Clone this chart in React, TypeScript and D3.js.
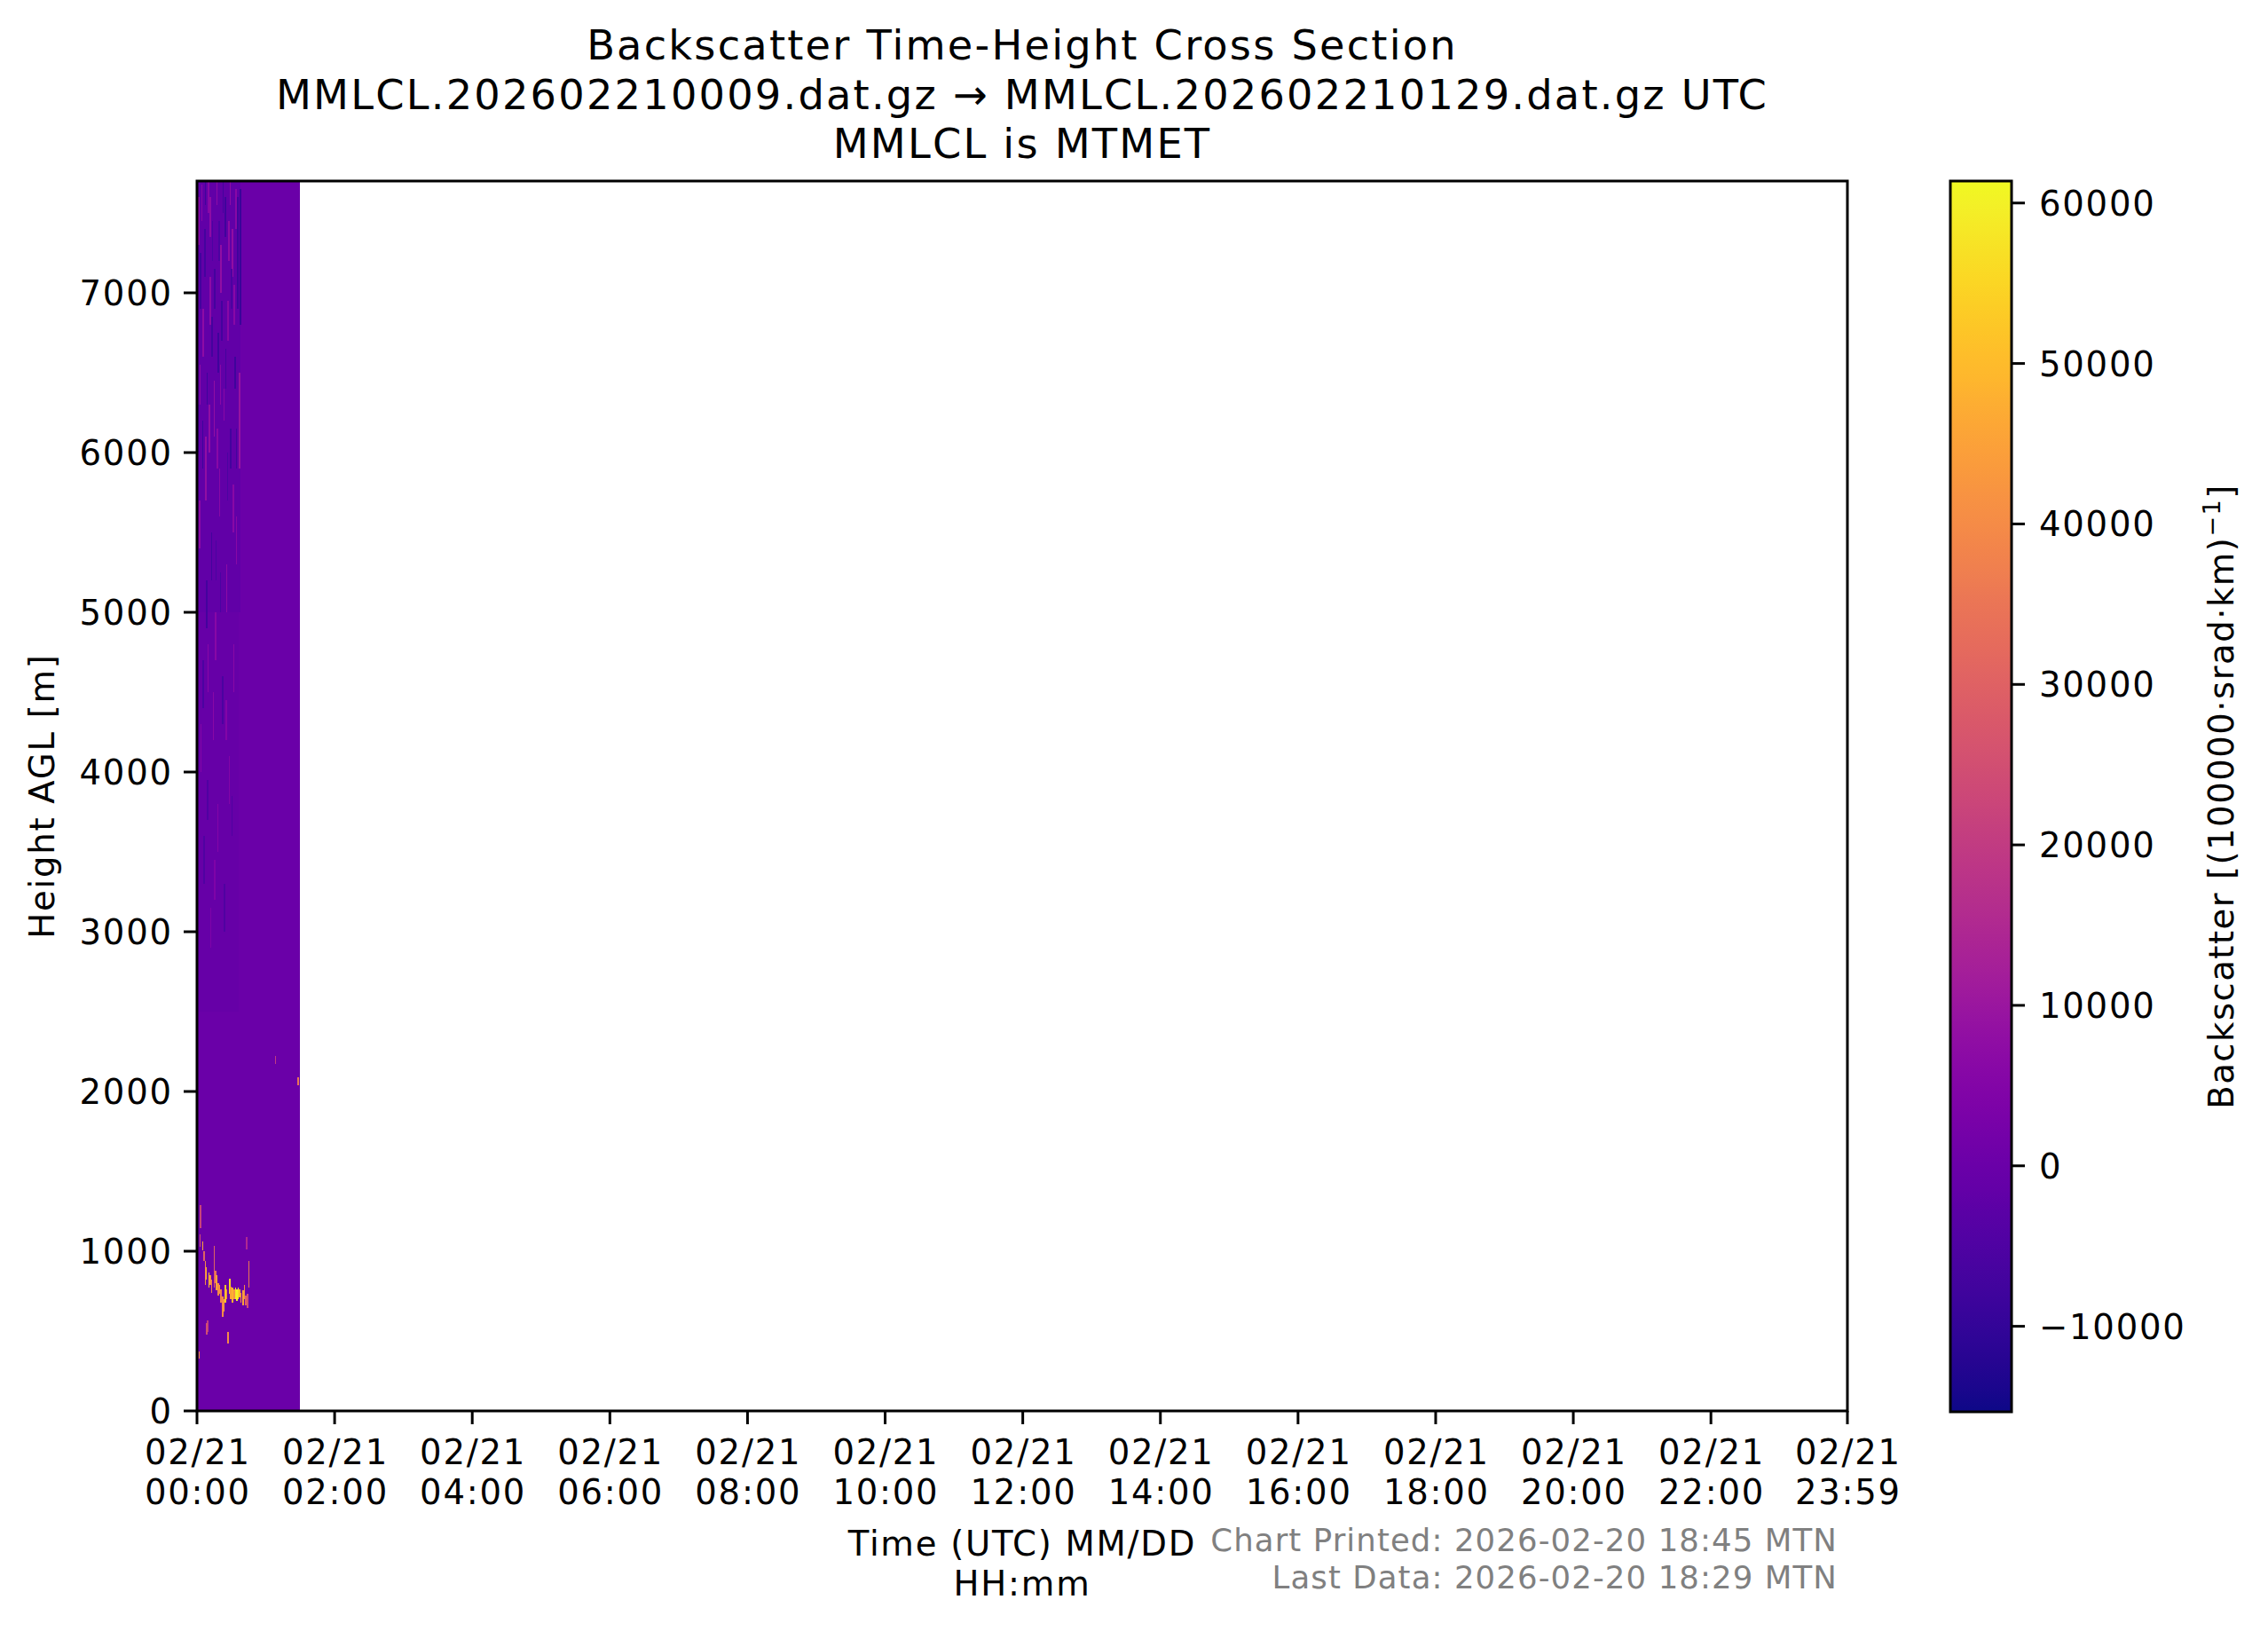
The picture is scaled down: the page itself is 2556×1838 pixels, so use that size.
import React from 'react';
import * as d3 from 'd3';

// time axis in minutes after 02/21 00:00 UTC, height in metres AGL
const xTickMinutes = [0, 120, 240, 360, 480, 600, 720, 840, 960, 1080, 1200, 1320, 1439];
const xTickDates = ["02/21", "02/21", "02/21", "02/21", "02/21", "02/21", "02/21", "02/21", "02/21", "02/21", "02/21", "02/21", "02/21"];
const xTickTimes = ["00:00", "02:00", "04:00", "06:00", "08:00", "10:00", "12:00", "14:00", "16:00", "18:00", "20:00", "22:00", "23:59"];
const yTicks = [0, 1000, 2000, 3000, 4000, 5000, 6000, 7000];
const colorTicks = [-10000, 0, 10000, 20000, 30000, 40000, 50000, 60000];

const timeDomain = [0, 1439];
const heightDomain = [0, 7700];
const colorDomain = [-15330, 61370];

// data coverage: [t0, t1, h0, h1, value]
const coverage = [[0, 90, 0, 7700, 0]];

// noisy upper region, mean levels: [t0, t1, h0, h1, value]
const noiseBands = [
  [0, 36, 2500, 7700, -700],
  [0, 38, 5000, 7700, -1600],
];

// noise speckles: [t, h0, h1, value]
const noiseStreaks = [
  [1.0, 7300, 7600, 7000], [2.5, 6900, 7250, -7000], [3.5, 7450, 7680, 6000],
  [5.0, 6600, 6900, 7000], [6.2, 7100, 7400, -7000], [7.0, 5700, 6100, 8000],
  [8.3, 6300, 6500, -8000], [9.5, 7500, 7700, 6000], [10.8, 6800, 7100, 7000],
  [12.0, 5200, 5500, -7000], [13.1, 7200, 7450, -6000], [14.4, 6100, 6450, 8000],
  [15.6, 4700, 5000, 6000], [16.9, 7550, 7700, 7000], [18.0, 6500, 6750, -8000],
  [19.2, 5600, 5900, 6000], [20.5, 7000, 7300, 8000], [21.7, 4300, 4600, -6000],
  [22.9, 6200, 6400, 6000], [24.0, 7350, 7600, -8000], [25.3, 5000, 5300, 7000],
  [26.5, 6700, 6950, 6000], [27.8, 3800, 4100, 5000], [29.0, 5900, 6150, -7000],
  [30.2, 7100, 7400, 8000], [31.5, 4500, 4800, 6000], [32.7, 6400, 6600, -8000],
  [34.0, 5300, 5600, 6000], [35.2, 6900, 7600, -8000], [36.5, 5900, 6500, 9000],
  [37.4, 6800, 7650, -9000], [3.0, 4000, 4300, 5000], [5.8, 3300, 3600, -5000],
  [9.0, 4500, 4800, 6000], [11.5, 2900, 3150, 4000], [17.5, 3500, 3800, 5000],
  [23.5, 3000, 3300, -5000], [1.8, 5400, 5700, 7000], [4.3, 5900, 6200, -8000],
  [7.8, 4900, 5200, -7000], [13.8, 4200, 4500, 6000], [20.0, 5000, 5250, -6000],
  [28.5, 7550, 7700, 7000], [33.3, 7400, 7650, 6000], [10.2, 6000, 6300, 8000],
  [15.0, 6900, 7150, -7000], [19.8, 6300, 6550, 6000], [26.0, 5700, 6000, -6000],
  [31.0, 5500, 5800, 6000], [2.0, 6300, 6550, 7000], [6.8, 7550, 7700, -8000],
  [11.0, 7350, 7600, 7000], [17.0, 5900, 6150, 6000], [22.3, 7500, 7700, -7000],
  [27.2, 7200, 7450, 7000], [32.0, 6800, 7050, 6000], [8.8, 3700, 3950, -5000],
  [14.9, 3200, 3450, 4000], [25.0, 4200, 4450, 5000], [30.0, 3600, 3850, -5000],
  [0.4, 6000, 6300, -7000], [4.9, 4400, 4700, -6000], [12.6, 6600, 6850, -7000],
  [18.6, 7200, 7450, -6000], [24.6, 6400, 6650, -7000], [29.6, 6900, 7150, -6000],
  [33.8, 5900, 6150, -7000], [21.0, 6700, 6950, -7000], [16.2, 5200, 5450, -6000],
];

// cloud returns: [t, h0, h1, value]
const cloudStreaks = [
  [1.5, 330, 372, 42000], [2.3, 1145, 1290, 22000], [2.1, 1030, 1105, 25000],
  [4.6, 1005, 1060, 45000], [5.4, 940, 1000, 30000], [6.6, 790, 940, 40000],
  [7.6, 820, 900, 48000], [8.5, 494, 568, 20000], [7.7, 480, 550, 25000],
  [9.8, 772, 866, 50000], [10.8, 790, 850, 42000], [12.0, 740, 820, 38000],
  [14.4, 772, 1033, 30000], [15.5, 800, 880, 35000], [16.6, 757, 848, 45000],
  [18.0, 720, 800, 40000], [19.0, 735, 790, 42000], [20.5, 680, 760, 38000],
  [22.0, 589, 717, 40000], [23.0, 620, 700, 45000], [24.0, 680, 790, 52000],
  [25.2, 700, 760, 40000], [26.6, 422, 494, 40000], [27.9, 735, 827, 55000],
  [29.0, 700, 780, 45000], [30.5, 680, 772, 48000], [31.7, 700, 760, 42000],
  [33.0, 698, 772, 58000], [34.2, 690, 760, 60000], [35.4, 700, 770, 56000],
  [36.5, 710, 760, 50000], [37.8, 680, 740, 42000], [39.5, 661, 754, 45000],
  [40.8, 700, 790, 40000], [42.0, 660, 720, 30000], [43.4, 643, 735, 25000],
  [42.8, 1013, 1087, 15000], [44.7, 772, 939, 35000], [68.0, 2170, 2220, 20000],
  [87.4, 2040, 2090, 35000],
];

const titleLines = [
  "Backscatter Time-Height Cross Section",
  "MMLCL.202602210009.dat.gz \u2192 MMLCL.202602210129.dat.gz UTC",
  "MMLCL is MTMET",
];
const footerLines = ["Chart Printed: 2026-02-20 18:45 MTN", "Last Data: 2026-02-20 18:29 MTN"];

const FONT = "DejaVu Sans";
const PROFILE_MIN = 1.2;

export default function App() {
  const W = 2556, H = 1838;
  const plot = { left: 222, right: 2082, top: 204, bottom: 1590 };
  const cb = { left: 2198, right: 2267, top: 204, bottom: 1591 };
  const fs = 38.6;
  const ls = 1.75;

  const x = d3.scaleLinear().domain(timeDomain).range([plot.left, plot.right]);
  const y = d3.scaleLinear().domain(heightDomain).range([plot.bottom, plot.top]);
  const color = d3.scaleSequential(d3.interpolatePlasma).domain(colorDomain);
  const cbY = d3.scaleLinear().domain(colorDomain).range([cb.bottom, cb.top]);

  const fmt = (v: number) => (v < 0 ? "\u2212" + Math.abs(v) : String(v));
  const stops = d3.range(0, 1.0001, 0.02);

  return (
    <div>
      <style>{`body{margin:0}`}</style>
      <svg width={W} height={H} style={{ display: 'block', background: '#fff' }} fontFamily={FONT}>
        <defs>
          <clipPath id="plotClip">
            <rect x={plot.left} y={plot.top} width={plot.right - plot.left} height={plot.bottom - plot.top} />
          </clipPath>
          <linearGradient id="cbGrad" x1="0" y1="1" x2="0" y2="0">
            {stops.map(s => (
              <stop key={s} offset={s} stopColor={d3.interpolatePlasma(s)} />
            ))}
          </linearGradient>
        </defs>

        {/* heatmap */}
        <g clipPath="url(#plotClip)" shapeRendering="crispEdges">
          {coverage.concat(noiseBands).map((d, i) => (
            <rect key={'b' + i} x={x(d[0])} width={x(d[1]) - x(d[0])}
              y={y(d[3])} height={y(d[2]) - y(d[3])} fill={color(d[4])} />
          ))}
          {noiseStreaks.concat(cloudStreaks).map((d, i) => (
            <rect key={'s' + i} x={x(d[0])} width={x(PROFILE_MIN) - x(0)}
              y={y(d[2])} height={y(d[1]) - y(d[2])} fill={color(d[3])} />
          ))}
        </g>

        {/* frame */}
        <rect x={plot.left} y={plot.top} width={plot.right - plot.left} height={plot.bottom - plot.top}
          fill="none" stroke="#000" strokeWidth={3} />

        {/* x ticks */}
        {xTickMinutes.map((m, i) => (
          <g key={'x' + i}>
            <line x1={x(m)} x2={x(m)} y1={plot.bottom} y2={plot.bottom + 15} stroke="#000" strokeWidth={3} />
            <text x={x(m) + ls / 2} y={1650} fontSize={fs} letterSpacing={ls} textAnchor="middle">{xTickDates[i]}</text>
            <text x={x(m) + ls / 2} y={1695} fontSize={fs} letterSpacing={ls} textAnchor="middle">{xTickTimes[i]}</text>
          </g>
        ))}

        {/* y ticks */}
        {yTicks.map(v => (
          <g key={'y' + v}>
            <line x1={plot.left - 15} x2={plot.left} y1={y(v)} y2={y(v)} stroke="#000" strokeWidth={3} />
            <text x={193 + ls} y={y(v) + 14} fontSize={fs} letterSpacing={ls} textAnchor="end">{v}</text>
          </g>
        ))}

        <text transform={`translate(61, ${(plot.top + plot.bottom) / 2}) rotate(-90)`}
          fontSize={fs} letterSpacing={ls} textAnchor="middle">Height AGL [m]</text>

        <text x={(plot.left + plot.right) / 2} y={1753} fontSize={fs} letterSpacing={ls} textAnchor="middle">Time (UTC) MM/DD</text>
        <text x={(plot.left + plot.right) / 2} y={1798} fontSize={fs} letterSpacing={ls} textAnchor="middle">HH:mm</text>

        {footerLines.map((t, i) => (
          <text key={'f' + i} x={2071} y={1748 + i * 42} fontSize={35.5} letterSpacing={1.1}
            fill="#808080" textAnchor="end">{t}</text>
        ))}

        {titleLines.map((t, i) => (
          <text key={'t' + i} x={(plot.left + plot.right) / 2} y={67 + i * 55.7} fontSize={46.3}
            letterSpacing={2.2} textAnchor="middle">{t}</text>
        ))}

        {/* colorbar */}
        <rect x={cb.left} y={cb.top} width={cb.right - cb.left} height={cb.bottom - cb.top} fill="url(#cbGrad)" />
        <rect x={cb.left} y={cb.top} width={cb.right - cb.left} height={cb.bottom - cb.top}
          fill="none" stroke="#000" strokeWidth={3} />
        {colorTicks.map(v => (
          <g key={'c' + v}>
            <line x1={cb.right} x2={cb.right + 15} y1={cbY(v)} y2={cbY(v)} stroke="#000" strokeWidth={3} />
            <text x={2298} y={cbY(v) + 14} fontSize={fs} letterSpacing={ls}>{fmt(v)}</text>
          </g>
        ))}
        <text transform={`translate(2517, ${(cb.top + cb.bottom) / 2}) rotate(-90)`}
          fontSize={fs} letterSpacing={1.5} textAnchor="middle">
          Backscatter [(100000·srad·km)
          <tspan dy={-15} fontSize={27}>{"\u22121"}</tspan>
          <tspan dy={15}>]</tspan>
        </text>
      </svg>
    </div>
  );
}
